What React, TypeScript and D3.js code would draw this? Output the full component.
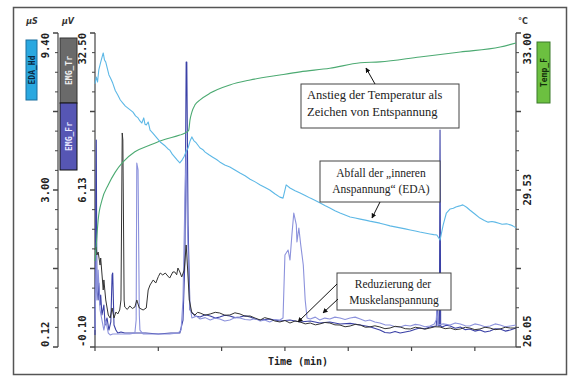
import React from "react";
import * as d3 from "d3";

// ---- data (time in tick units, values in axis units) ----
const edaSeries: [number, number][] = [
  [0.0, 7.9], [0.02, 8.1], [0.04, 7.95], [0.06, 8.31], [0.09, 8.54], [0.13, 8.81], [0.15, 8.6], [0.17, 8.54], [0.22, 8.16],
  [0.25, 8.05], [0.28, 7.92], [0.32, 7.7], [0.36, 7.57], [0.4, 7.42], [0.44, 7.33], [0.48, 7.24], [0.52, 7.18], [0.56, 7.12],
  [0.6, 7.06], [0.64, 6.95], [0.68, 6.89], [0.71, 6.8], [0.74, 6.74], [0.77, 6.89], [0.79, 6.7], [0.81, 6.68], [0.84, 6.77],
  [0.87, 6.53], [0.91, 6.45], [0.95, 6.36], [0.99, 6.27], [1.03, 6.18], [1.07, 6.12], [1.11, 6.06], [1.15, 5.98], [1.18, 5.94],
  [1.22, 5.82], [1.26, 5.73], [1.3, 5.64], [1.34, 5.56], [1.38, 5.66], [1.41, 5.76], [1.44, 5.9], [1.47, 6.0], [1.5, 6.2],
  [1.53, 6.33], [1.56, 6.22], [1.6, 6.15], [1.66, 6.0], [1.7, 5.96], [1.74, 5.88], [1.8, 5.8], [1.86, 5.73], [1.92, 5.66],
  [1.97, 5.59], [2.05, 5.5], [2.13, 5.44], [2.21, 5.35], [2.29, 5.26], [2.37, 5.18], [2.45, 5.08], [2.53, 5.0], [2.61, 4.91],
  [2.68, 4.84], [2.76, 4.76], [2.84, 4.65], [2.92, 4.55], [2.97, 4.52], [3.02, 4.91], [3.08, 4.82], [3.16, 4.74], [3.24, 4.67],
  [3.32, 4.6], [3.4, 4.52], [3.48, 4.45], [3.55, 4.38], [3.63, 4.3], [3.71, 4.23], [3.79, 4.15], [3.87, 4.08], [3.95, 4.02],
  [4.03, 3.96], [4.11, 3.93], [4.19, 3.9], [4.27, 3.87], [4.34, 3.84], [4.42, 3.81], [4.5, 3.78], [4.58, 3.74], [4.66, 3.7],
  [4.74, 3.67], [4.82, 3.64], [4.9, 3.61], [4.98, 3.58], [5.06, 3.55], [5.13, 3.52], [5.21, 3.49], [5.29, 3.46], [5.35, 3.44],
  [5.4, 3.43], [5.45, 3.28], [5.5, 3.73], [5.55, 4.08], [5.61, 4.2], [5.66, 4.22], [5.7, 4.26], [5.76, 4.29], [5.81, 4.32],
  [5.87, 4.25], [5.92, 4.17], [6.0, 4.05], [6.08, 3.93], [6.15, 3.86], [6.21, 3.81], [6.27, 3.83], [6.32, 3.81], [6.38, 3.78],
  [6.43, 3.75], [6.5, 3.76], [6.56, 3.73], [6.6, 3.7], [6.65, 3.64],
];

const tempSeries: [number, number][] = [
  [0.0, 27.95], [0.02, 28.31], [0.05, 28.86], [0.11, 29.3], [0.21, 29.64], [0.32, 29.92], [0.44, 30.14], [0.63, 30.37],
  [0.87, 30.52], [1.11, 30.65], [1.34, 30.74], [1.45, 30.81], [1.48, 30.85], [1.5, 31.07], [1.53, 31.25], [1.58, 31.41],
  [1.66, 31.52], [1.82, 31.67], [2.13, 31.85], [2.45, 31.96], [2.92, 32.07], [3.24, 32.14], [3.71, 32.22], [4.19, 32.34],
  [4.5, 32.36], [5.13, 32.47], [5.77, 32.58], [6.4, 32.69], [6.65, 32.78],
];

const blackSeries: [number, number][] = [
  [0.0, 9.97], [0.02, 10.28], [0.03, 9.45], [0.05, 9.76], [0.08, 8.41], [0.09, 9.14], [0.13, 5.82], [0.14, 6.86], [0.17, 4.78],
  [0.21, 3.22], [0.24, 2.91], [0.27, 3.95], [0.3, 2.91], [0.33, 3.53], [0.36, 3.33], [0.39, 3.74], [0.41, 4.78], [0.43, 22.12],
  [0.44, 21.39], [0.46, 4.78], [0.47, 4.05], [0.51, 3.8], [0.55, 4.16], [0.59, 3.9], [0.63, 4.05], [0.66, 4.78], [0.7, 3.95],
  [0.76, 3.74], [0.81, 3.95], [0.84, 5.82], [0.87, 6.34], [0.92, 6.86], [0.96, 6.54], [1.0, 7.2], [1.03, 7.58], [1.07, 7.38],
  [1.11, 7.58], [1.15, 7.27], [1.18, 7.06], [1.23, 7.69], [1.26, 7.69], [1.29, 7.4], [1.31, 8.1], [1.34, 7.69], [1.37, 7.17],
  [1.41, 7.89], [1.44, 10.49], [1.45, 9.45], [1.49, 4.78], [1.53, 3.43], [1.58, 3.22], [1.62, 3.5], [1.66, 3.43], [1.74, 3.2],
  [1.82, 3.33], [1.9, 3.5], [1.97, 3.43], [2.05, 3.2], [2.13, 3.22], [2.21, 3.45], [2.29, 3.33], [2.37, 3.1], [2.45, 3.12],
  [2.53, 2.9], [2.61, 2.7], [2.68, 2.95], [2.76, 2.81], [2.84, 2.6], [2.92, 2.5], [3.0, 2.65], [3.08, 2.39], [3.16, 2.6],
  [3.24, 2.5], [3.32, 2.3], [3.4, 2.39], [3.48, 2.2], [3.55, 2.29], [3.63, 2.45], [3.71, 2.39], [3.79, 2.2], [3.87, 2.18],
  [3.95, 2.0], [4.03, 2.08], [4.11, 2.25], [4.19, 2.18], [4.27, 1.95], [4.34, 1.98], [4.42, 2.1], [4.5, 1.98], [4.58, 1.8],
  [4.66, 1.87], [4.74, 2.05], [4.82, 1.98], [4.9, 1.8], [4.98, 1.77], [5.06, 1.95], [5.13, 1.87], [5.21, 1.75], [5.29, 1.87],
  [5.37, 2.0], [5.45, 1.98], [5.53, 1.8], [5.61, 1.87], [5.69, 1.7], [5.77, 1.77], [5.85, 1.95], [5.92, 1.87], [6.0, 1.7],
  [6.08, 1.77], [6.16, 1.95], [6.24, 1.87], [6.32, 1.7], [6.4, 1.77], [6.48, 1.95], [6.56, 1.87], [6.65, 1.87],
];

const darkBlueSeries: [number, number][] = [
  [0.0, 1.15], [0.02, 21.39], [0.03, 5.82], [0.05, 4.78], [0.06, 6.54], [0.08, 4.26], [0.09, 5.3], [0.11, 3.22], [0.14, 4.26],
  [0.16, 2.18], [0.19, 2.91], [0.22, 1.66], [0.25, 2.5], [0.27, 7.38], [0.28, 7.58], [0.3, 2.18], [0.33, 1.66], [0.36, 1.35],
  [0.41, 1.46], [0.47, 1.35], [0.6, 1.35], [0.8, 1.35], [1.0, 1.25], [1.2, 1.35], [1.34, 1.35], [1.39, 2.7], [1.42, 8.93],
  [1.44, 29.49], [1.45, 29.49], [1.47, 12.57], [1.5, 3.74], [1.58, 3.12], [1.66, 3.01], [1.74, 3.25], [1.82, 3.12],
  [1.9, 2.9], [1.97, 3.01], [2.05, 3.2], [2.13, 3.12], [2.21, 2.95], [2.29, 3.01], [2.37, 3.15], [2.45, 3.01], [2.53, 2.8],
  [2.61, 2.7], [2.76, 2.8], [2.92, 2.6], [3.08, 2.7], [3.24, 2.5], [3.4, 2.6], [3.55, 2.39], [3.71, 2.5], [3.87, 2.29],
  [4.03, 2.35], [4.19, 2.18], [4.34, 2.0], [4.5, 1.66], [4.58, 1.4], [4.66, 1.35], [4.74, 1.5], [4.82, 1.35], [4.9, 1.45],
  [4.98, 1.56], [5.06, 1.75], [5.13, 1.87], [5.21, 1.8], [5.29, 1.98], [5.39, 2.08], [5.41, 4.78], [5.42, 2.08],
  [5.44, 2.08], [5.45, 22.43], [5.46, 2.08], [5.48, 1.98], [5.55, 2.15], [5.61, 2.08], [5.69, 1.85], [5.77, 1.98],
  [5.85, 1.7], [5.92, 1.77], [6.0, 1.55], [6.08, 1.66], [6.16, 1.45], [6.24, 1.56], [6.32, 1.8], [6.4, 1.77], [6.48, 1.55],
  [6.56, 1.66], [6.65, 1.87],
];

const lilacSeries: [number, number][] = [
  [0.0, 1.66], [0.02, 9.97], [0.03, 4.78], [0.05, 7.89], [0.08, 3.74], [0.11, 2.7], [0.14, 1.66], [0.17, 2.7], [0.21, 1.35],
  [0.24, 1.15], [0.28, 1.25], [0.39, 1.25], [0.55, 1.25], [0.63, 1.35], [0.65, 2.7], [0.66, 19.0], [0.68, 18.28], [0.7, 3.22],
  [0.71, 1.66], [0.76, 1.25], [0.87, 1.25], [1.03, 1.25], [1.18, 1.25], [1.31, 1.35], [1.36, 1.66], [1.39, 4.78],
  [1.42, 15.16], [1.44, 20.35], [1.45, 15.16], [1.49, 4.78], [1.53, 2.91], [1.6, 3.1], [1.66, 2.81], [1.74, 2.95],
  [1.82, 2.7], [1.9, 2.9], [1.97, 2.81], [2.05, 2.6], [2.13, 2.7], [2.21, 2.95], [2.29, 2.91], [2.37, 2.75], [2.45, 2.7],
  [2.53, 2.85], [2.61, 2.6], [2.68, 2.7], [2.76, 2.5], [2.84, 2.75], [2.92, 2.7], [2.97, 2.91], [3.0, 9.45], [3.05, 9.97],
  [3.08, 8.93], [3.11, 11.53], [3.14, 13.81], [3.18, 12.57], [3.19, 10.8], [3.22, 12.25], [3.25, 10.49], [3.29, 8.41],
  [3.32, 4.78], [3.35, 2.91], [3.4, 2.81], [3.48, 3.0], [3.55, 2.7], [3.63, 2.9], [3.71, 2.81], [3.79, 3.0], [3.87, 2.91],
  [3.95, 2.75], [4.03, 2.91], [4.11, 3.0], [4.19, 2.81], [4.27, 2.6], [4.34, 2.7], [4.42, 2.5], [4.5, 2.39], [4.58, 2.2],
  [4.66, 2.18], [4.74, 2.0], [4.82, 1.98], [4.9, 2.15], [4.98, 2.08], [5.06, 2.25], [5.13, 2.18], [5.21, 2.0], [5.29, 2.08],
  [5.36, 2.3], [5.39, 2.7], [5.4, 3.74], [5.42, 2.18], [5.5, 2.3], [5.61, 2.18], [5.69, 2.4], [5.77, 2.29], [5.85, 2.1],
  [5.92, 2.08], [6.0, 2.3], [6.08, 2.18], [6.16, 2.0], [6.24, 2.08], [6.32, 2.3], [6.4, 2.18], [6.48, 2.0], [6.56, 2.08],
  [6.65, 2.18],
];

const timeTicks = [0, 1, 2, 3, 4, 5, 6];
const edaLabels = ["0.12", "3.00", "9.40"];
const emgLabels = ["-0.10", "6.13", "32.50"];
const tempLabels = [26.05, 29.53, 33.0];
const minorTickCount = 16;

const annotations = [
  { lines: ["Anstieg der Temperatur als", "Zeichen von Entspannung"] },
  { lines: ["Abfall der \u201Einneren", "Anspannung\u201C (EDA)"] },
  { lines: ["Reduzierung der", "Muskelanspannung"] },
];

// ---- layout ----
const W = 571, H = 376;
const L = 95, R = 516, T = 33, B = 347;
const AX_A = 58;
const MONO = "'DejaVu Sans Mono', monospace";
const SERIF = "'Liberation Serif', 'DejaVu Serif', serif";

export default function App() {
  const x = d3.scaleLinear().domain([0, 6.65]).range([L, R]);
  const yEda = d3.scaleLinear().domain([0.12, 9.4]).range([B, T]);
  const yEmg = d3.scaleLinear().domain([-0.1, 32.5]).range([B, T]);
  const yTemp = d3.scaleLinear().domain([26.05, 33.0]).range([B, T]);
  const yTick = d3.scaleLinear().domain([0, minorTickCount]).range([B, T]);
  const posA = d3.scalePoint<string>().domain(edaLabels).range([B, T]);
  const posB = d3.scalePoint<string>().domain(emgLabels).range([B, T]);

  const lineEda = d3.line<[number, number]>().x((d) => x(d[0])).y((d) => yEda(d[1]));
  const lineEmg = d3.line<[number, number]>().x((d) => x(d[0])).y((d) => yEmg(d[1]));
  const lineTemp = d3
    .line<[number, number]>()
    .x((d) => x(d[0]))
    .y((d) => yTemp(d[1]))
    .curve(d3.curveMonotoneX);

  const ticks = d3.range(minorTickCount + 1);
  const anchorFor = (i: number, n: number) => (i === 0 ? "start" : i === n - 1 ? "end" : "middle");

  const rotLabel = (key: string, cx: number, cy: number, txt: string, anchor: string) => (
    <text
      key={key}
      transform={`translate(${cx},${cy}) rotate(-90)`}
      textAnchor={anchor}
      fontFamily={MONO}
      fontWeight="bold"
      fontSize={10.5}
      fill="#222"
    >
      {txt}
    </text>
  );

  const box = (bx: number, by: number, bw: number, bh: number, fill: string, stroke: string, label: string, color: string) => (
    <g>
      <rect x={bx} y={by} width={bw} height={bh} fill={fill} stroke={stroke} strokeWidth={1} />
      <text
        transform={`translate(${bx + bw / 2 + 3},${by + bh / 2}) rotate(-90)`}
        textAnchor="middle"
        fontFamily={MONO}
        fontWeight="bold"
        fontSize={8}
        fill={color}
      >
        {label}
      </text>
    </g>
  );

  return (
    <svg width={W} height={H} style={{ position: "absolute", left: 0, top: 0, background: "#fff" }}>
      <defs>
        <marker id="ah" viewBox="0 0 10 10" refX="9" refY="5" markerWidth="5" markerHeight="5" orient="auto">
          <path d="M0,0 L10,5 L0,10 z" fill="#111" />
        </marker>
      </defs>
      <rect x={13.5} y={7.5} width={553} height={367} fill="#fff" stroke="#555" strokeWidth={1.5} />

      {/* units */}
      <text x={32} y={24} textAnchor="middle" fontFamily="'DejaVu Sans', sans-serif" fontStyle="italic" fontWeight="bold" fontSize={8} fill="#333">µS</text>
      <text x={68} y={24} textAnchor="middle" fontFamily="'DejaVu Sans', sans-serif" fontStyle="italic" fontWeight="bold" fontSize={8} fill="#333">µV</text>
      <text x={523} y={24} textAnchor="middle" fontFamily="'DejaVu Sans', sans-serif" fontWeight="bold" fontSize={8} fill="#333">°C</text>

      {/* channel boxes */}
      {box(26, 40, 11, 60, "#2aa8e0", "#1a6f9e", "EDA_Hd", "#0b2a44")}
      {box(60, 38, 17, 65, "#6a6a6a", "#333", "EMG_Tr", "#f0f0f0")}
      {box(60, 103, 17, 67, "#5656b4", "#111", "EMG_Fr", "#e8e8ff")}
      {box(537, 42, 13, 61, "#6cc040", "#3a7a2a", "Temp_F", "#14320c")}

      {/* axis A */}
      <line x1={AX_A} x2={AX_A} y1={T} y2={B} stroke="#444" strokeWidth={1.2} />
      {ticks.map((i) => (
        <line key={"ta" + i} x1={AX_A - (i % 4 === 0 ? 5 : 3)} x2={AX_A} y1={yTick(i)} y2={yTick(i)} stroke="#444" strokeWidth={i % 4 === 0 ? 1.5 : 1} />
      ))}
      {edaLabels.map((s, i) => rotLabel("la" + i, 48.5, posA(s) as number, s, anchorFor(i, edaLabels.length)))}

      {/* axis B */}
      <line x1={L} x2={L} y1={T} y2={B} stroke="#444" strokeWidth={1.2} />
      {ticks.map((i) => (
        <line key={"tb" + i} x1={L - (i % 4 === 0 ? 5 : 3)} x2={L} y1={yTick(i)} y2={yTick(i)} stroke="#444" strokeWidth={i % 4 === 0 ? 1.5 : 1} />
      ))}
      {emgLabels.map((s, i) => rotLabel("lb" + i, 85.5, posB(s) as number, s, anchorFor(i, emgLabels.length)))}

      {/* right axis */}
      <line x1={R} x2={R} y1={T} y2={B} stroke="#444" strokeWidth={1.2} />
      {ticks.map((i) => (
        <line key={"tr" + i} x1={R} x2={R + (i % 4 === 0 ? 5 : 3)} y1={yTick(i)} y2={yTick(i)} stroke="#444" strokeWidth={i % 4 === 0 ? 1.5 : 1} />
      ))}
      {tempLabels.map((v, i) => rotLabel("lr" + i, 530.5, yTemp(v), v.toFixed(2), anchorFor(i, tempLabels.length)))}

      {/* x axis */}
      <line x1={L} x2={R} y1={B} y2={B} stroke="#444" strokeWidth={1.2} />
      {timeTicks.map((t) => (
        <line key={"tx" + t} x1={x(t)} x2={x(t)} y1={B} y2={B + 4} stroke="#444" strokeWidth={1.2} />
      ))}
      <text x={298} y={365} textAnchor="middle" fontFamily={MONO} fontWeight="bold" fontSize={10} fill="#222">Time (min)</text>

      {/* series */}
      <g fill="none" strokeLinejoin="round">
        <path d={lineEmg(darkBlueSeries) || ""} stroke="#3a40a6" strokeWidth={1.1} />
        <path d={lineEmg(lilacSeries) || ""} stroke="#8c92dc" strokeWidth={1.1} />
        <path d={lineEmg(blackSeries) || ""} stroke="#333" strokeWidth={1} />
        <path d={lineTemp(tempSeries) || ""} stroke="#4caa72" strokeWidth={1.1} />
        <path d={lineEda(edaSeries) || ""} stroke="#5db8e6" strokeWidth={1.1} />
      </g>

      {/* annotations */}
      <g fontFamily={SERIF} fontSize={11.5} fill="#222">
        <rect x={301} y={84} width={158} height={44} fill="#fff" stroke="#444" strokeWidth={1} />
        <text x={307} y={99} fontSize={12.5}>{annotations[0].lines[0]}</text>
        <text x={307} y={116} fontSize={12.5}>{annotations[0].lines[1]}</text>
        <line x1={375} y1={84} x2={366} y2={68} stroke="#111" strokeWidth={1} markerEnd="url(#ah)" />

        <rect x={320} y={161} width={120} height={41} fill="#fff" stroke="#444" strokeWidth={1} />
        <text x={381} y={177} textAnchor="middle">{annotations[1].lines[0]}</text>
        <text x={381} y={193} textAnchor="middle">{annotations[1].lines[1]}</text>
        <line x1={380} y1={202} x2={372} y2={218} stroke="#111" strokeWidth={1} markerEnd="url(#ah)" />

        <rect x={337} y={273} width={114} height={37} fill="#fff" stroke="#444" strokeWidth={1} />
        <text x={393} y={288} textAnchor="middle">{annotations[2].lines[0]}</text>
        <text x={394} y={304} textAnchor="middle">{annotations[2].lines[1]}</text>
        <line x1={337} y1={284} x2={298} y2={322} stroke="#111" strokeWidth={1} markerEnd="url(#ah)" />
        <line x1={338} y1={299} x2={323} y2={313} stroke="#111" strokeWidth={1} markerEnd="url(#ah)" />
      </g>
    </svg>
  );
}
